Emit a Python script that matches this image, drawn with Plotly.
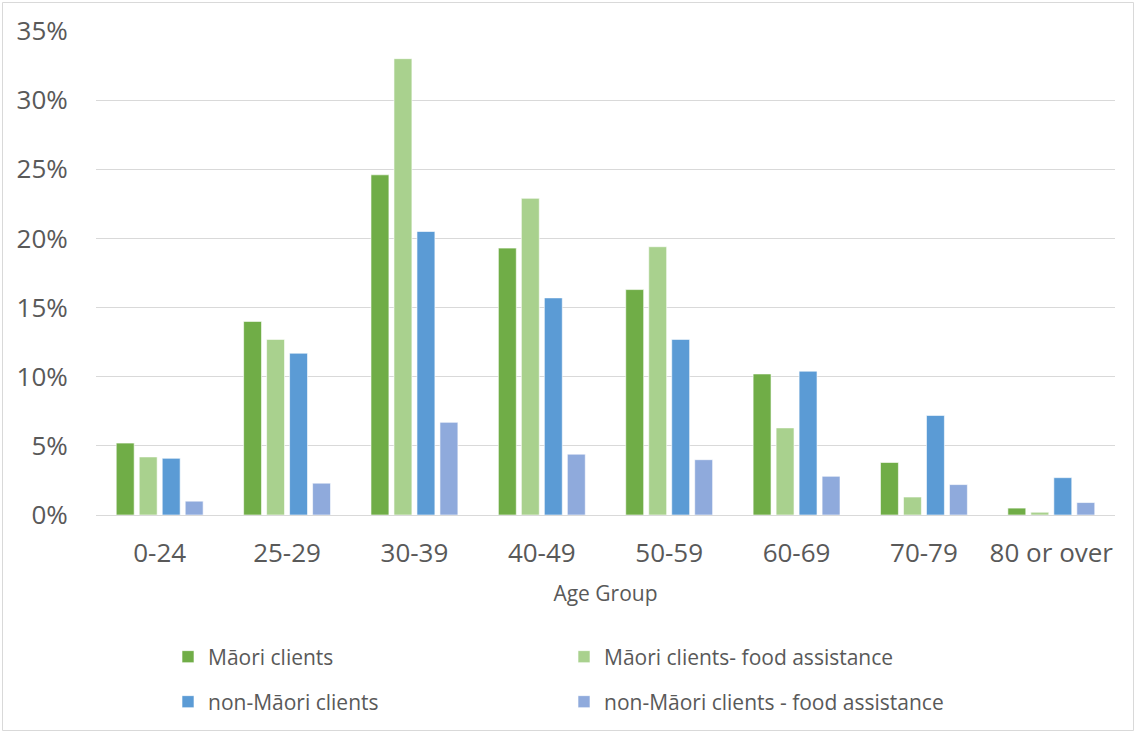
import plotly.graph_objects as go

# Age groups on the category axis
age_groups = ["0-24", "25-29", "30-39", "40-49", "50-59", "60-69", "70-79", "80 or over"]

# Share of clients in each age group (%)
maori_clients = [5.2, 14.0, 24.6, 19.3, 16.3, 10.2, 3.8, 0.5]
maori_food = [4.2, 12.7, 33.0, 22.9, 19.4, 6.3, 1.3, 0.2]
non_maori_clients = [4.1, 11.7, 20.5, 15.7, 12.7, 10.4, 7.2, 2.7]
non_maori_food = [1.0, 2.3, 6.7, 4.4, 4.0, 2.8, 2.2, 0.9]

series_names = [
    "Māori clients",
    "Māori clients- food assistance",
    "non-Māori clients",
    "non-Māori clients - food assistance",
]
series_values = [maori_clients, maori_food, non_maori_clients, non_maori_food]
series_colors = ["#70AD47", "#A9D18E", "#5B9BD5", "#8FAADC"]
series_legends = ["legend", "legend", "legend2", "legend2"]

y_ticks = [0, 5, 10, 15, 20, 25, 30, 35]
y_tick_labels = ["0%", "5%", "10%", "15%", "20%", "25%", "30%", "35%"]

W, H = 1136, 733
M_L, M_R, M_T, M_B = 96, 21, 31, 218
PLOT_W = W - M_L - M_R
PLOT_H = H - M_T - M_B


def px_x(px):
    return (px - M_L) / PLOT_W


def px_y(py):
    return (H - M_B - py) / PLOT_H


TEXT = "#595959"
GRID = "#D9D9D9"
FONT = "Open Sans, Noto Sans, sans-serif"

fig = go.Figure()
for name, vals, color, lg in zip(series_names, series_values, series_colors, series_legends):
    fig.add_trace(go.Bar(
        x=age_groups,
        y=vals,
        name=name,
        marker=dict(color=color, line=dict(color="rgba(255,255,255,0.6)", width=1)),
        legend=lg,
        hovertemplate="%{x}: %{y}%<extra>" + name + "</extra>",
    ))

legend_common = dict(
    orientation="h",
    xanchor="left",
    yanchor="middle",
    entrywidth=351,
    entrywidthmode="pixels",
    font=dict(family=FONT, size=21, color=TEXT),
    bgcolor="rgba(0,0,0,0)",
    itemclick=False,
)

fig.update_layout(
    width=W,
    height=H,
    margin=dict(l=M_L, r=M_R, t=M_T, b=M_B, autoexpand=False),
    paper_bgcolor="white",
    plot_bgcolor="white",
    barmode="group",
    bargap=0.278,
    bargroupgap=0.22,
    font=dict(family=FONT, color=TEXT),
    legend=dict(x=px_x(168), y=px_y(657), **legend_common),
    legend2=dict(x=px_x(168), y=px_y(702), **legend_common),
    xaxis=dict(
        type="category",
        tickfont=dict(size=26, color=TEXT),
        ticks="outside",
        ticklen=15,
        tickcolor="rgba(0,0,0,0)",
        showline=True,
        linecolor=GRID,
        linewidth=1,
        showgrid=False,
        title=dict(text="Age Group", font=dict(size=21, color=TEXT), standoff=17),
    ),
    yaxis=dict(
        range=[0, 35],
        tickmode="array",
        tickvals=y_ticks,
        ticktext=y_tick_labels,
        tickfont=dict(size=26, color=TEXT),
        ticks="outside",
        ticklen=22,
        tickcolor="rgba(0,0,0,0)",
        showgrid=True,
        gridcolor=GRID,
        gridwidth=1,
        zeroline=False,
        showline=False,
    ),
    shapes=[
        dict(
            type="rect",
            xref="paper",
            yref="paper",
            x0=px_x(2.5),
            x1=px_x(1133.5),
            y0=px_y(730.5),
            y1=px_y(2.5),
            line=dict(color=GRID, width=1),
            fillcolor="rgba(0,0,0,0)",
            layer="below",
        )
    ],
)

fig.write_html("out.html")
